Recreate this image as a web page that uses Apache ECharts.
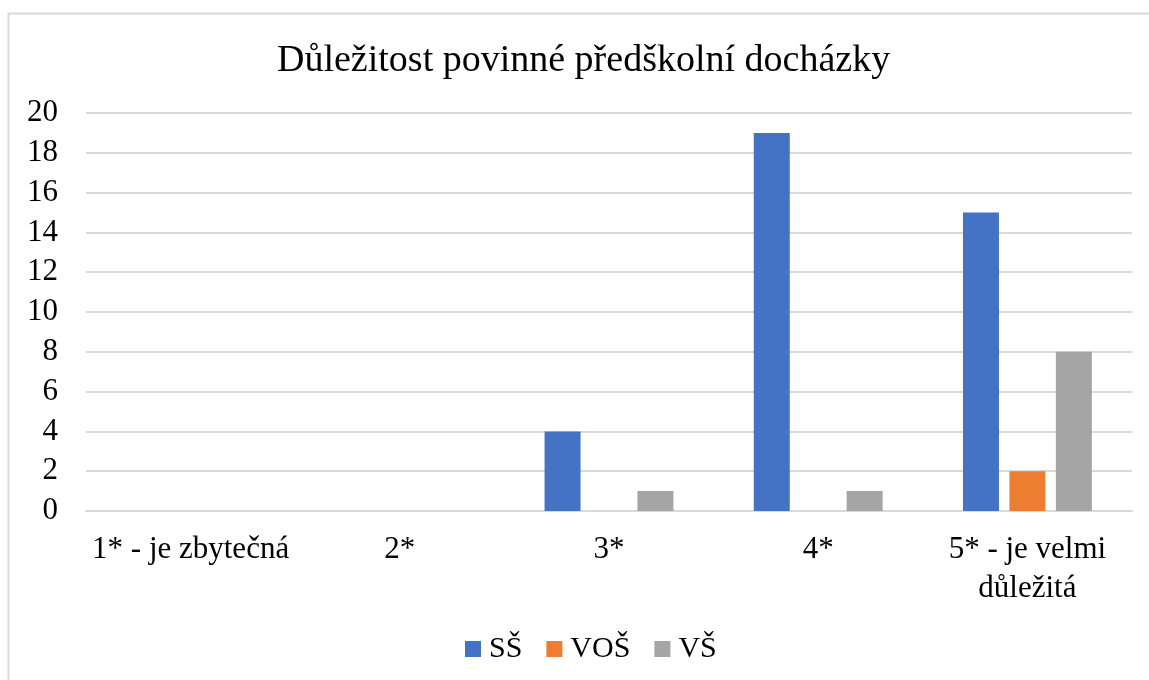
<!DOCTYPE html>
<html>
<head>
<meta charset="utf-8">
<script src="https://cdn.jsdelivr.net/npm/echarts@6/dist/echarts.min.js"></script>
<style>
  html, body { margin: 0; padding: 0; background: #fff; }
  #chart { width: 1149px; height: 680px; }
</style>
</head>
<body>
<div id="chart"></div>
<script>
const categories = ['1* - je zbytečná', '2*', '3*', '4*', '5* - je velmi\ndůležitá']
const ssValues = [0, 0, 4, 19, 15]
const vosValues = [0, 0, 0, 0, 2]
const vsValues = [0, 0, 1, 1, 8]

const serif = '"Liberation Serif", "Times New Roman", serif'
const gridColor = '#d9d9d9'

const chart = echarts.init(document.getElementById('chart'))

const option = {
  animation: false,
  textStyle: { fontFamily: serif },
  graphic: [{
    type: 'rect',
    shape: { x: 8.5, y: 13.5, width: 1300, height: 800 },
    style: { fill: 'none', stroke: gridColor, lineWidth: 2 },
    silent: true
  }],
  title: {
    text: 'Důležitost povinné předškolní docházky',
    left: 272,
    top: 37,
    textStyle: { fontFamily: serif, fontSize: 38, fontWeight: 'normal', color: '#000' }
  },
  legend: {
    data: ['SŠ', 'VOŠ', 'VŠ'],
    top: 629,
    left: 460,
    itemWidth: 16,
    itemHeight: 16,
    itemGap: 24,
    icon: 'rect',
    textStyle: { fontFamily: serif, fontSize: 30, color: '#000', padding: [0, 0, 0, 3] }
  },
  grid: {
    left: 86,
    right: 17,
    top: 113,
    bottom: 169,
    containLabel: false
  },
  xAxis: {
    type: 'category',
    data: categories,
    axisLine: { show: true, lineStyle: { color: gridColor, width: 2 } },
    axisTick: { show: false },
    axisLabel: {
      interval: 0,
      margin: 19,
      fontFamily: serif,
      fontSize: 31,
      lineHeight: 39,
      color: '#000'
    }
  },
  yAxis: {
    type: 'value',
    min: 0,
    max: 20,
    interval: 2,
    axisLine: { show: false },
    axisTick: { show: false },
    axisLabel: { margin: 28, fontFamily: serif, fontSize: 31, color: '#000' },
    splitLine: { lineStyle: { color: gridColor, width: 2 } }
  },
  series: [
    {
      name: 'SŠ',
      type: 'bar',
      data: ssValues,
      barWidth: 36,
      barGap: '29%',
      itemStyle: { color: '#4472C4' }
    },
    {
      name: 'VOŠ',
      type: 'bar',
      data: vosValues,
      barWidth: 36,
      barGap: '29%',
      itemStyle: { color: '#ED7D31' }
    },
    {
      name: 'VŠ',
      type: 'bar',
      data: vsValues,
      barWidth: 36,
      barGap: '29%',
      itemStyle: { color: '#A5A5A5' }
    }
  ]
}

chart.setOption(option)
</script>
</body>
</html>
